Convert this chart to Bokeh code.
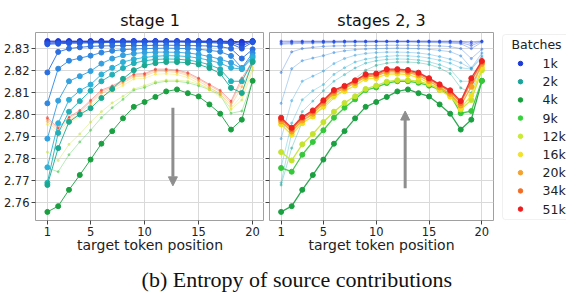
from bokeh.plotting import figure
from bokeh.layouts import column, row
from bokeh.models import (Range1d, FixedTicker, Arrow, NormalHead, BoxAnnotation,
                          PrintfTickFormatter, CustomJSTickFormatter)
from bokeh.embed import file_html
from bokeh.resources import INLINE
from bokeh.core.properties import value

# ---------------- data ----------------
positions = [1, 2, 3, 4, 5, 6, 7, 8, 9, 10, 11, 12, 13, 14, 15, 16, 17, 18, 19, 20]

s_a1 = [2.8332, 2.8332, 2.8332, 2.8332, 2.8332, 2.8332, 2.8332, 2.8332, 2.8332, 2.8332,
        2.8332, 2.8332, 2.8332, 2.8332, 2.8332, 2.8332, 2.8332, 2.8331, 2.8329, 2.8332]
s_a2 = [2.8328, 2.8329, 2.8330, 2.8330, 2.8330, 2.8330, 2.8331, 2.8331, 2.8331, 2.8331,
        2.8331, 2.8331, 2.8331, 2.8331, 2.8331, 2.8330, 2.8330, 2.8329, 2.8322, 2.8331]
s_a3 = [2.8322, 2.8325, 2.8326, 2.8327, 2.8327, 2.8328, 2.8329, 2.8329, 2.8329, 2.8330,
        2.8330, 2.8330, 2.8330, 2.8329, 2.8329, 2.8328, 2.8327, 2.8325, 2.8312, 2.8330]
s_a4 = [2.8318, 2.8320, 2.8322, 2.8323, 2.8324, 2.8325, 2.8326, 2.8327, 2.8327, 2.8328,
        2.8328, 2.8328, 2.8328, 2.8327, 2.8326, 2.8325, 2.8323, 2.8320, 2.8298, 2.8327]
s_b = [2.8190, 2.8283, 2.8298, 2.8304, 2.8308, 2.8310, 2.8311, 2.8312, 2.8312, 2.8312,
       2.8313, 2.8313, 2.8313, 2.8312, 2.8311, 2.8310, 2.8307, 2.8298, 2.8253, 2.8295]
s_c = [2.8050, 2.8207, 2.8243, 2.8255, 2.8266, 2.8280, 2.8288, 2.8293, 2.8296, 2.8298,
       2.8299, 2.8300, 2.8299, 2.8298, 2.8295, 2.8290, 2.8284, 2.8265, 2.8210, 2.8278]
s_d = [2.7890, 2.8062, 2.8150, 2.8173, 2.8196, 2.8230, 2.8253, 2.8268, 2.8276, 2.8280,
       2.8282, 2.8282, 2.8281, 2.8278, 2.8272, 2.8262, 2.8250, 2.8234, 2.8207, 2.8265]
s_e = [2.7760, 2.7960, 2.8066, 2.8107, 2.8135, 2.8181, 2.8211, 2.8237, 2.8250, 2.8258,
       2.8263, 2.8266, 2.8265, 2.8262, 2.8255, 2.8245, 2.8232, 2.8211, 2.8205, 2.8257]
s_f = [2.7690, 2.7916, 2.8012, 2.8060, 2.8107, 2.8150, 2.8180, 2.8210, 2.8232, 2.8243,
       2.8249, 2.8251, 2.8250, 2.8246, 2.8238, 2.8225, 2.8205, 2.8150, 2.8150, 2.8242]
s_g = [2.7680, 2.7847, 2.7966, 2.8000, 2.8028, 2.8074, 2.8115, 2.8161, 2.8200, 2.8222,
       2.8232, 2.8237, 2.8237, 2.8234, 2.8226, 2.8210, 2.8185, 2.8120, 2.8097, 2.8237]
s_4k = [2.7558, 2.7584, 2.7658, 2.7725, 2.7795, 2.7867, 2.7924, 2.7982, 2.8034, 2.8056,
        2.8079, 2.8104, 2.8113, 2.8096, 2.8081, 2.8045, 2.8003, 2.7931, 2.7976, 2.8152]
s_9k = [2.7757, 2.7740, 2.7817, 2.7875, 2.7928, 2.7985, 2.8030, 2.8068, 2.8110, 2.8122,
        2.8142, 2.8150, 2.8150, 2.8143, 2.8130, 2.8112, 2.8088, 2.8005, 2.8015, 2.8152]
s_12k = [2.7829, 2.7791, 2.7864, 2.7911, 2.7965, 2.8012, 2.8052, 2.8082, 2.8115, 2.8130,
         2.8148, 2.8155, 2.8155, 2.8150, 2.8137, 2.8118, 2.8095, 2.8022, 2.8065, 2.8200]
s_16k = [2.7955, 2.7908, 2.7960, 2.7990, 2.8036, 2.8083, 2.8105, 2.8131, 2.8160, 2.8164,
         2.8182, 2.8184, 2.8180, 2.8167, 2.8141, 2.8111, 2.8080, 2.8028, 2.8085, 2.8212]
s_20k = [2.7968, 2.7922, 2.7972, 2.8003, 2.8049, 2.8096, 2.8117, 2.8142, 2.8170, 2.8174,
         2.8193, 2.8194, 2.8190, 2.8177, 2.8151, 2.8122, 2.8093, 2.8040, 2.8125, 2.8228]
s_34k = [2.7978, 2.7932, 2.7982, 2.8012, 2.8058, 2.8104, 2.8124, 2.8149, 2.8177, 2.8180,
         2.8200, 2.8200, 2.8196, 2.8184, 2.8159, 2.8131, 2.8103, 2.8052, 2.8150, 2.8236]
s_51k = [2.7985, 2.7939, 2.7988, 2.8018, 2.8064, 2.8110, 2.8129, 2.8154, 2.8182, 2.8185,
         2.8205, 2.8205, 2.8201, 2.8189, 2.8164, 2.8136, 2.8109, 2.8060, 2.8164, 2.8242]

series = [s_a1, s_a2, s_a3, s_a4, s_b, s_c, s_d, s_e, s_f, s_g,
          s_4k, s_9k, s_12k, s_16k, s_20k, s_34k, s_51k]
series_colors = ["#1a2cd0", "#1c3ad8", "#2048dc", "#2458e0", "#2b6ee0", "#3088e0",
                 "#33a0e0", "#2cb0d8", "#22b0b8", "#1aa890", "#1aa040", "#35c83a",
                 "#c4e42c", "#f2e020", "#f6a028", "#f4702a", "#ee2020"]
# which series are emphasised in each panel
stage1_on = [True, True, True, True, True, True, True, True, True, True, True,
             False, False, False, False, False, False]
stage23_on = [False, False, False, False, False, False, False, False, False, False, True,
              True, True, True, True, True, True]

batch_labels = ["1k", "2k", "4k", "9k", "12k", "16k", "20k", "34k", "51k"]
legend_colors = ["#1c3ad6", "#1aa39a", "#18a03c", "#33d43a", "#c9ec2c", "#f5e41c",
                 "#f7a126", "#f56d22", "#ee1d1d"]

x_ticks = [1, 5, 10, 15, 20]
y_ticks = [2.76, 2.77, 2.78, 2.79, 2.80, 2.81, 2.82, 2.83]

titles = ["stage 1", "stages 2, 3"]
x_label = "target token position"
legend_title = "Batches"
caption = "(b) Entropy of source contributions"

arrow_x = [12.62, 12.74]
arrow_y0 = [2.8030, 2.7665]
arrow_y1 = [2.7676, 2.8015]

FONT = "DejaVu Sans"
PANEL_H = 258
B_TOP, B_BOT = 32, 38


def style(p, show_ylabels):
    p.title.text_font = FONT
    p.title.text_font_size = "16px"
    p.title.text_font_style = "normal"
    p.title.text_color = "#111111"
    p.title.align = "center"
    p.title.standoff = 6
    p.title.offset = 4
    p.outline_line_color = "#a0a0a0"
    p.outline_line_width = 1
    p.xgrid.grid_line_color = "#d9d9d9"
    p.ygrid.grid_line_color = "#d9d9d9"
    p.xaxis.ticker = FixedTicker(ticks=x_ticks)
    p.yaxis.ticker = FixedTicker(ticks=y_ticks)
    for ax in (p.xaxis, p.yaxis):
        ax.axis_line_color = None
        ax.major_tick_line_color = "#444444"
        ax.major_tick_out = 4
        ax.major_tick_in = 0
        ax.minor_tick_line_color = None
        ax.major_label_text_font = FONT
        ax.major_label_text_font_size = "11.5px"
        ax.major_label_text_color = "#222222"
    p.xaxis.major_label_standoff = 2
    p.xaxis.axis_label = x_label
    p.xaxis.axis_label_text_font = FONT
    p.xaxis.axis_label_text_font_size = "14px"
    p.xaxis.axis_label_text_font_style = "normal"
    p.xaxis.axis_label_text_color = "#222222"
    p.xaxis.axis_label_standoff = -2
    if show_ylabels:
        p.yaxis.formatter = PrintfTickFormatter(format="%.2f")
        p.yaxis.major_label_standoff = 2
    else:
        p.yaxis.formatter = CustomJSTickFormatter(code="return ''")
        p.yaxis.major_label_standoff = 0


def draw(p, flags, big_w):
    for s, c, on in zip(series, series_colors, flags):
        if not on:
            p.line(positions, s, line_color=c, line_width=0.9, line_alpha=0.4)
            p.scatter(positions, s, color=c, size=2.2, alpha=0.4)
    for s, c, on in zip(series, series_colors, flags):
        if on:
            p.line(positions, s, line_color=c, line_width=big_w, line_alpha=0.9)
            p.scatter(positions, s, color=c, size=5)


common = dict(y_range=Range1d(2.7519, 2.8371), output_backend="svg",
              toolbar_location=None, min_border_top=B_TOP, min_border_bottom=B_BOT,
              height=PANEL_H)

p1 = figure(width=264, x_range=Range1d(-0.1, 21.1), title=titles[0],
            min_border_left=35, min_border_right=0, **common)
style(p1, True)
draw(p1, stage1_on, 1.0)

p2 = figure(width=233, x_range=Range1d(-0.1, 21.1), title=titles[1],
            min_border_left=5, min_border_right=4, **common)
style(p2, False)
draw(p2, stage23_on, 1.3)

for p, ax, y0, y1 in zip((p1, p2), arrow_x, arrow_y0, arrow_y1):
    p.add_layout(Arrow(end=NormalHead(size=9, fill_color="#8e8e8e", line_color="#8e8e8e"),
                       x_start=ax, y_start=y0, x_end=ax, y_end=y1,
                       line_color="#8e8e8e", line_width=3))

# ---------------- legend panel (pixel-like coordinates, y downwards) ----------------
LW = 69
pl = figure(width=LW, height=PANEL_H, x_range=Range1d(0, LW),
            y_range=Range1d(PANEL_H - B_BOT, B_TOP),
            x_axis_type=None, y_axis_type=None, output_backend="svg",
            toolbar_location=None, min_border_left=0, min_border_right=0,
            min_border_top=B_TOP, min_border_bottom=B_BOT, title=None)
pl.outline_line_color = None
pl.xgrid.visible = False
pl.ygrid.visible = False
n_items = len(batch_labels)
box_top, title_y, item_first, item_step = 34, 44, 63, 18.2
pl.add_layout(BoxAnnotation(left=5, right=LW + 12, top=box_top,
                            bottom=item_first + item_step * (n_items - 1) + 10.5,
                            fill_alpha=0, line_color="#cccccc",
                            line_width=1, border_radius=3, level="underlay"))
item_y = [item_first + item_step * i for i in range(n_items)]
pl.text(x=[14], y=[title_y], text=[legend_title], text_font=value(FONT),
        text_font_size="12.5px", text_align="left", text_baseline="middle",
        text_color="#222222")
pl.scatter(x=[23] * n_items, y=item_y, color=legend_colors, size=4.5)
pl.text(x=[45] * n_items, y=item_y, text=batch_labels, text_font=value(FONT),
        text_font_size="12.5px", text_align="left", text_baseline="middle",
        text_color="#222222")

# ---------------- caption ----------------
cap = figure(width=566, height=35, x_range=Range1d(0, 1), y_range=Range1d(0, 1),
             x_axis_type=None, y_axis_type=None, output_backend="svg",
             toolbar_location=None, min_border_left=35, min_border_right=0,
             min_border_top=0, min_border_bottom=0, title=None)
cap.outline_line_color = None
cap.xgrid.visible = False
cap.ygrid.visible = False
cap.text(x=[0.492], y=[0.40], text=[caption], text_font=value("Liberation Serif"),
         text_font_size="22px", text_align="center", text_baseline="alphabetic",
         text_color="#111111")

layout = column(row(p1, p2, pl, spacing=0), cap, spacing=0)
open("out.html", "w").write(file_html(layout, INLINE))
